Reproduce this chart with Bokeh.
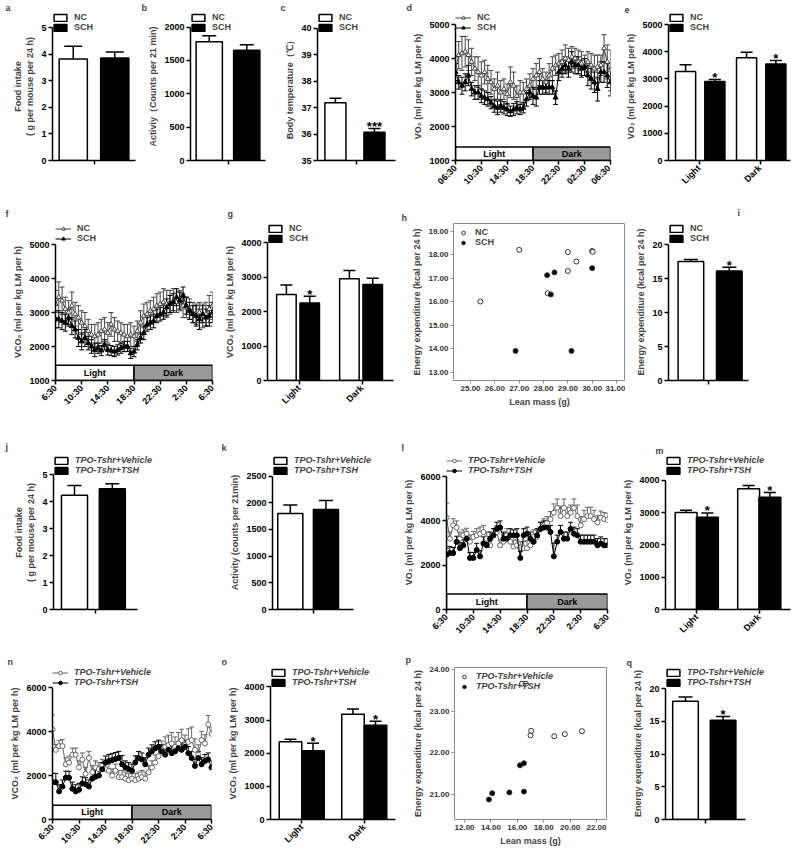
import math
from bokeh.plotting import figure
from bokeh.layouts import column, row
from bokeh.models import (ColumnDataSource, FactorRange, Range1d, Whisker, TeeHead,
                          Legend, LegendItem, FixedTicker, NumeralTickFormatter)
from bokeh.transform import dodge
from bokeh.core.properties import value
from bokeh.embed import file_html
from bokeh.resources import INLINE

FONT = "Liberation Sans"
DARKGRAY = "#9a9a9a"
TITLE_H = 12

# ---------------- data ----------------
grp_one = ["all"]
light_dark = ["Light", "Dark"]
nc_sch = ["NC", "SCH"]
veh_tsh = ["TPO-Tshr+Vehicle", "TPO-Tshr+TSH"]

a_food = [3.83, 3.87]
a_err = [0.48, 0.22]
b_act = [1778, 1652]
b_err = [92, 83]
c_temp = [37.18, 36.07]
c_err = [0.17, 0.14]
c_sig = ["", "***"]
i_ee = [17.5, 16.1]
i_err = [0.3, 0.55]
i_sig = ["", "*"]

e_nc = [3270, 3775]
e_nc_err = [250, 205]
e_sch = [2900, 3550]
e_sch_err = [80, 125]
e_sig = ["*", "*"]
g_nc = [2490, 2950]
g_nc_err = [280, 240]
g_sch = [2250, 2780]
g_sch_err = [190, 185]
g_sig = ["*", ""]

j_food = [4.25, 4.49]
j_err = [0.36, 0.18]
k_act = [1800, 1875]
k_err = [160, 170]
q_ee = [18.07, 15.16]
q_err = [0.62, 0.58]
q_sig = ["", "*"]

m_veh = [3000, 3736]
m_veh_err = [70, 100]
m_tsh = [2856, 3472]
m_tsh_err = [130, 147]
m_sig = ["*", "*"]
o_veh = [2344, 3176]
o_veh_err = [76, 157]
o_tsh = [2079, 2844]
o_tsh_err = [224, 118]
o_sig = ["*", "*"]

hours = [0, 0.5, 1, 1.5, 2, 2.5, 3, 3.5, 4, 4.5, 5, 5.5, 6, 6.5, 7, 7.5, 8, 8.5, 9, 9.5,
         10, 10.5, 11, 11.5, 12, 12.5, 13, 13.5, 14, 14.5, 15, 15.5, 16, 16.5, 17, 17.5,
         18, 18.5, 19, 19.5, 20, 20.5, 21, 21.5, 22, 22.5, 23, 23.5, 24]
time_ticks = [0, 4, 8, 12, 16, 20, 24]
time_labels_d = ["06:30", "10:30", "14:30", "18:30", "22:30", "02:30", "06:30"]
time_labels_f = ["6:30", "10:30", "14:30", "18:30", "22:30", "2:30", "6:30"]
phase_names = ["Light", "Dark"]
phase_start = [0, 12]
phase_end = [12, 24]

d_nc = [3700, 4100, 4150, 4200, 4100, 3900, 3700, 3600, 3500, 3600, 3400, 3300, 3100, 3200, 3000, 3100,
        2950, 3300, 3200, 2900, 3000, 3000, 3100, 3200, 3400, 3500, 3600, 3400, 3300, 3500, 3700, 3800,
        3850, 3900, 4000, 3950, 4050, 4000, 3900, 3850, 3800, 3900, 3800, 3700, 3750, 3800, 4300, 3900, 3650]
d_nc_err = [350, 400, 500, 450, 450, 400, 350, 450, 400, 350, 400, 350, 300, 400, 350, 300,
            300, 450, 400, 300, 350, 300, 300, 350, 300, 350, 400, 300, 300, 350, 350, 300,
            300, 350, 400, 350, 300, 300, 350, 350, 300, 300, 350, 400, 350, 300, 400, 500, 600]
d_sch = [3600, 3300, 3200, 3300, 3500, 3100, 3000, 3000, 2900, 2850, 2800, 2700, 2600, 2550, 2600, 2550,
         2500, 2450, 2500, 2550, 2500, 2550, 2800, 3000, 2900, 2850, 3150, 3150, 3150, 3150, 3150, 2850,
         3600, 3700, 3800, 3700, 3900, 3800, 3800, 3700, 3750, 3500, 3400, 3300, 3100, 3600, 3600, 3500, 3300]
d_sch_err = [250, 200, 250, 250, 300, 200, 200, 200, 200, 200, 200, 180, 180, 200, 180, 180,
             180, 150, 180, 180, 150, 150, 200, 200, 250, 250, 200, 200, 200, 200, 200, 200,
             250, 250, 250, 250, 300, 250, 250, 250, 250, 300, 300, 300, 350, 300, 300, 350, 400]

f_nc = [3250, 3450, 3350, 3100, 3000, 3200, 2950, 2850, 2700, 2600, 2450, 2350, 2300, 2350, 2450, 2500,
        2400, 2650, 2500, 2450, 2400, 2350, 2300, 2350, 2300, 2450, 2700, 2900, 2950, 3050, 3100, 3200,
        3250, 3300, 3250, 3300, 3350, 3300, 3350, 3200, 3150, 3100, 3000, 2950, 3000, 2900, 2950, 3100, 3200]
f_nc_err = [400, 450, 400, 350, 350, 400, 350, 350, 350, 400, 350, 300, 350, 350, 350, 350,
            300, 350, 350, 300, 300, 300, 350, 350, 300, 300, 350, 350, 350, 300, 350, 350,
            350, 400, 400, 350, 350, 300, 300, 350, 300, 300, 300, 300, 300, 350, 350, 400, 400]
f_sch = [2800, 2800, 2750, 2700, 2850, 2600, 2500, 2250, 2150, 2250, 2100, 2000, 1900, 1950, 1880, 2050,
         1900, 1880, 1850, 1900, 1950, 2000, 2000, 1800, 1850, 2050, 2250, 2400, 2650, 2700, 2750, 2900,
         2950, 3000, 3150, 3250, 3300, 3450, 3350, 3500, 3200, 3050, 2950, 2900, 2800, 2950, 2850, 2900, 3000]
f_sch_err = [250, 250, 250, 250, 250, 250, 250, 250, 250, 250, 200, 200, 200, 150, 150, 150,
             150, 150, 150, 150, 150, 150, 150, 150, 150, 150, 150, 200, 200, 200, 200, 200,
             200, 200, 250, 250, 250, 250, 250, 250, 250, 250, 250, 300, 300, 250, 250, 300, 300]

l_veh = [4150, 3200, 3800, 3700, 3200, 3350, 3420, 3060, 3280, 3350, 3420, 3500, 3200, 2900, 3350, 3500,
         2900, 3060, 3350, 3060, 2840, 2900, 2770, 2770, 2770, 2900, 3300, 3280, 3640, 3800, 3900, 4080,
         4370, 4590, 4220, 4590, 4220, 4370, 4590, 4220, 3800, 4080, 4220, 4220, 4080, 3930, 4150, 4080, 4050]
l_veh_err = [650, 300, 300, 300, 300, 250, 250, 300, 250, 300, 300, 300, 300, 300, 300, 300,
             250, 300, 300, 300, 300, 250, 300, 300, 350, 300, 300, 300, 300, 300, 300, 350,
             400, 400, 450, 400, 400, 350, 400, 500, 400, 400, 400, 400, 400, 300, 300, 300, 300]
l_tsh = [2470, 2550, 2550, 3060, 2770, 2900, 3200, 2330, 2330, 2690, 2400, 2980, 2900, 3200, 3350, 3640,
         3700, 3200, 3200, 3350, 3350, 3350, 2330, 3350, 3420, 3200, 3060, 3350, 3640, 3700, 3700, 3500,
         2400, 3060, 3500, 3200, 3200, 3640, 3420, 3350, 3060, 3060, 3060, 3060, 3060, 2900, 2980, 2900, 2900]
l_tsh_err = [300, 300, 250, 250, 250, 250, 300, 250, 250, 300, 250, 300, 300, 300, 300, 300,
             300, 300, 250, 300, 250, 300, 300, 300, 300, 300, 300, 300, 300, 300, 300, 300,
             600, 300, 300, 300, 300, 300, 300, 300, 300, 300, 300, 300, 300, 300, 300, 300, 300]

n_veh = [4100, 3170, 3340, 3340, 2510, 2590, 2950, 2950, 2370, 2730, 2080, 2800, 2150, 2370, 2290, 2440,
         2290, 2220, 2000, 2220, 1930, 1930, 1860, 1790, 1860, 1790, 1860, 1930, 1860, 2150, 2370, 2590,
         2880, 3170, 3310, 3390, 3460, 3310, 3460, 3610, 3390, 3530, 3610, 3170, 2950, 3610, 3460, 4330, 3900]
n_veh_err = [650, 250, 250, 300, 300, 300, 300, 300, 300, 300, 300, 300, 300, 300, 300, 300,
             300, 300, 300, 300, 300, 300, 300, 300, 300, 300, 300, 300, 300, 300, 300, 350,
             400, 400, 450, 450, 500, 450, 500, 500, 450, 600, 600, 500, 450, 400, 400, 400, 300]
n_tsh = [1700, 1700, 1280, 1500, 1900, 1900, 1400, 1280, 1350, 1640, 1600, 1500, 1860, 1950, 2000, 2290,
         2590, 2660, 2700, 2750, 2800, 2510, 2370, 2290, 2220, 2600, 2800, 2730, 2510, 2950, 3100, 3240,
         3310, 3100, 2950, 3170, 3020, 3100, 3240, 3170, 3310, 3020, 2800, 2440, 2800, 2510, 2660, 2730, 2370]
n_tsh_err = [400, 400, 300, 300, 300, 300, 300, 300, 300, 300, 300, 300, 300, 300, 300, 300,
             300, 300, 300, 300, 300, 400, 300, 300, 300, 300, 300, 300, 300, 300, 300, 300,
             300, 300, 300, 300, 300, 300, 300, 300, 300, 300, 300, 300, 300, 300, 300, 300, 300]

h_nc_mass = [25.4, 27.0, 28.17, 29.0, 29.0, 29.35, 30.0, 30.02]
h_nc_ee = [16.0, 18.2, 16.35, 18.1, 17.3, 17.7, 18.15, 18.12]
h_sch_mass = [26.85, 28.15, 28.45, 28.3, 29.15, 30.0]
h_sch_ee = [13.9, 17.12, 17.24, 16.3, 13.9, 17.42]
p_veh_mass = [16.35, 16.65, 17.0, 17.05, 18.8, 19.6, 20.9]
p_veh_ee = [23.66, 23.66, 22.42, 22.53, 22.4, 22.45, 22.52]
p_tsh_mass = [13.85, 14.1, 15.4, 16.2, 16.5, 16.5]
p_tsh_ee = [20.88, 21.03, 21.05, 21.7, 21.75, 21.07]


# ---------------- helpers ----------------
def ext(start, top, t_top, bottom, f_top):
    """Range end so that `top` sits at pixel t_top when the frame spans f_top..bottom."""
    return top + (t_top - f_top) * (top - start) / (bottom - t_top)


def style_axis(ax, fs="9px"):
    ax.axis_line_width = 1.5
    ax.axis_line_color = "black"
    ax.major_tick_line_width = 1.5
    ax.major_tick_line_color = "black"
    ax.major_tick_in = 0
    ax.major_tick_out = 4
    ax.minor_tick_line_color = None
    ax.major_label_text_font = FONT
    ax.major_label_text_font_style = "bold"
    ax.major_label_text_font_size = fs
    ax.major_label_text_color = "black"
    ax.axis_label_text_font = FONT
    ax.axis_label_text_font_style = "bold"
    ax.axis_label_text_font_size = "9px"
    ax.axis_label_standoff = 3
    ax.major_label_standoff = 2


def make_fig(w, h, bl, br, bt, bb, xr, yr, letter, loff, t0):
    p = figure(width=w, height=h, x_range=xr, y_range=yr, output_backend="svg",
               toolbar_location=None, min_border_left=bl, min_border_right=br,
               min_border_top=bt, min_border_bottom=bb, title=letter)
    p.title.text_font = FONT
    p.title.text_font_style = "bold"
    p.title.text_font_size = "9px"
    p.title.align = "left"
    p.title.offset = loff
    p.title.standoff = max(0, bt - TITLE_H - t0)
    p.outline_line_color = None
    p.xgrid.visible = False
    p.ygrid.visible = False
    for ax in p.axis:
        style_axis(ax)
    return p


def add_legend(p, items, italic=False, gw=16, gh=9, margin=0):
    leg = Legend(items=items, location="top_left", orientation="vertical",
                 border_line_color=None, background_fill_alpha=0,
                 padding=0, margin=margin, spacing=0, label_standoff=6,
                 glyph_width=gw, glyph_height=gh, label_height=9,
                 label_text_font=FONT,
                 label_text_font_style="bold italic" if italic else "bold",
                 label_text_font_size="9px")
    p.add_layout(leg)


def bar_panel(p, groups, series, offsets, width, cap, ytop):
    """Bars per group; categorical x range (dodge) or numeric x range (group i centred at i+0.5)."""
    items = []
    y0 = p.y_range.start
    numeric = isinstance(p.x_range, Range1d)
    for (label, vals, errs, sigs, fill), off in zip(series, offsets):
        up = [v + e for v, e in zip(vals, errs)]
        data = dict(g=groups, top=vals, up=up, sig=sigs)
        if numeric:
            data["xn"] = [gi + 0.5 + off for gi in range(len(groups))]
            xs = "xn"
        else:
            xs = dodge("g", off, range=p.x_range)
        src = ColumnDataSource(data)
        p.add_layout(Whisker(source=src, base=xs, upper="up", lower="top",
                             line_color="black", line_width=1.5,
                             upper_head=TeeHead(size=cap, line_color="black", line_width=1.5),
                             lower_head=None))
        r = p.vbar(x=xs, top="top", bottom=y0, width=width, source=src,
                   fill_color=fill, line_color="black", line_width=1.5)
        p.text(x=xs, y="up", text="sig", source=src, text_align="center",
               text_baseline="alphabetic", y_offset=-2, text_font=value(FONT),
               text_font_style="bold", text_font_size="13px", text_color="black")
        items.append(LegendItem(label=label, renderers=[r]))
    if numeric:
        p.xaxis.ticker = FixedTicker(ticks=[gi + 0.5 for gi in range(len(groups))])
        p.xaxis.bounds = (0, len(groups))
    p.yaxis.bounds = (y0, ytop)
    return items


def ts_panel(p, series, labels, box_h, symmetric, ytop):
    y0 = p.y_range.start
    p.quad(left=phase_start, right=phase_end, bottom=y0, top=y0 + box_h,
           fill_color=["white", DARKGRAY], line_color="black", line_width=1.5)
    p.text(x=[(s + e) / 2 for s, e in zip(phase_start, phase_end)], y=[y0 + box_h / 2] * 2,
           text=phase_names, text_align="center", text_baseline="middle",
           text_font=value(FONT), text_font_style="bold", text_font_size="9px")
    items = []
    for label, vals, errs, fill, col, marker in series:
        up = [v + e for v, e in zip(vals, errs)]
        lo = [v - e for v, e in zip(vals, errs)] if symmetric else list(vals)
        src = ColumnDataSource(dict(x=hours, y=vals, up=up, lo=lo))
        p.add_layout(Whisker(source=src, base="x", upper="up", lower="lo",
                             line_color=col, line_width=1,
                             upper_head=TeeHead(size=5, line_color=col, line_width=1),
                             lower_head=TeeHead(size=5, line_color=col, line_width=1) if symmetric else None))
        rl = p.line("x", "y", source=src, line_color=col, line_width=1)
        rs = p.scatter("x", "y", source=src, marker=marker, size=5, fill_color=fill,
                       line_color=col, line_width=1)
        items.append(LegendItem(label=label, renderers=[rl, rs]))
    p.xaxis.ticker = FixedTicker(ticks=time_ticks)
    p.xaxis.major_label_overrides = dict(zip(time_ticks, labels))
    p.xaxis.major_label_orientation = math.pi / 4
    p.yaxis.bounds = (y0, ytop)
    return items


def scatter_panel(p, series, xt, yt):
    items = []
    for label, xs, ys, fill in series:
        r = p.scatter(xs, ys, marker="circle", size=5, fill_color=fill,
                      line_color="#333333", line_width=1)
        items.append(LegendItem(label=label, renderers=[r]))
    p.outline_line_color = "#8c8c8c"
    p.outline_line_width = 1
    for ax in p.axis:
        ax.axis_line_color = None
        ax.major_tick_line_color = "#8c8c8c"
        ax.major_tick_line_width = 1
        ax.major_tick_out = 3
        ax.major_label_text_font_size = "8px"
        ax.major_label_text_color = "#333333"
        ax.formatter = NumeralTickFormatter(format="0.00")
    p.xaxis.ticker = FixedTicker(ticks=xt)
    p.yaxis.ticker = FixedTicker(ticks=yt)
    return items


VO2 = "VO\u2082 (ml per kg LM per h)"
VCO2 = "VCO\u2082 (ml per kg LM per h)"
EE = "Energy expenditure (kcal per 24 h)"

# ---------------- row 1 (height 200) ----------------
R1 = 12
pa = make_fig(140, 200, 52, 5, R1, 35, FactorRange(factors=grp_one),
              Range1d(0, ext(0, 5, 28, 165, R1)), "a", -47, 0)
it = bar_panel(pa, grp_one, [(nc_sch[0], [a_food[0]], [a_err[0]], [""], "white"),
                             (nc_sch[1], [a_food[1]], [a_err[1]], [""], "black")], [-0.25, 0.25], 0.34, 18, 5)
pa.yaxis.ticker = FixedTicker(ticks=[0, 1, 2, 3, 4, 5])
pa.yaxis.axis_label = "Food intake\n( g per mouse per 24 h)"
pa.xaxis.major_label_text_color = None
add_legend(pa, it)

pb = make_fig(130, 200, 50, 5, R1, 35, FactorRange(factors=grp_one),
              Range1d(0, ext(0, 2000, 27, 165, R1)), "b", -49, 0)
it = bar_panel(pb, grp_one, [(nc_sch[0], [b_act[0]], [b_err[0]], [""], "white"),
                             (nc_sch[1], [b_act[1]], [b_err[1]], [""], "black")], [-0.25, 0.25], 0.35, 14, 2000)
pb.yaxis.ticker = FixedTicker(ticks=[0, 500, 1000, 1500, 2000])
pb.yaxis.axis_label = "Activiy\uff08Counts per 21 min)"
pb.xaxis.major_label_text_color = None
add_legend(pb, it)

pc = make_fig(135, 200, 47, 10, R1, 37, FactorRange(factors=grp_one),
              Range1d(35, ext(35, 40, 28, 163, R1)), "c", -37, 0)
it = bar_panel(pc, grp_one, [(nc_sch[0], [c_temp[0]], [c_err[0]], [c_sig[0]], "white"),
                             (nc_sch[1], [c_temp[1]], [c_err[1]], [c_sig[1]], "black")], [-0.27, 0.23], 0.27, 12, 40)
pc.yaxis.ticker = FixedTicker(ticks=[35, 36, 37, 38, 39, 40])
pc.yaxis.axis_label = "Body  temperature\uff08\u2103\uff09"
pc.xaxis.major_label_text_color = None
add_legend(pc, it)

pd_ = make_fig(207, 200, 50, 2, R1, 40, Range1d(0, 24),
               Range1d(1000, ext(1000, 5000, 24, 160, R1)), "d", -49, 0)
it = ts_panel(pd_, [(nc_sch[0], d_nc, d_nc_err, "white", "#444444", "triangle"),
                    (nc_sch[1], d_sch, d_sch_err, "black", "black", "triangle")],
              time_labels_d, 400, True, 5000)
pd_.yaxis.ticker = FixedTicker(ticks=[1000, 2000, 3000, 4000, 5000])
pd_.yaxis.axis_label = VO2
add_legend(pd_, it)

pe = make_fig(186, 200, 56, 8, R1, 40, FactorRange(factors=light_dark),
              Range1d(0, ext(0, 5000, 24, 160, R1)), "e", -44, 0)
it = bar_panel(pe, light_dark, [(nc_sch[0], e_nc, e_nc_err, ["", ""], "white"),
                                (nc_sch[1], e_sch, e_sch_err, e_sig, "black")], [-0.22, 0.26], 0.33, 12, 5000)
pe.yaxis.ticker = FixedTicker(ticks=[0, 1000, 2000, 3000, 4000, 5000])
pe.yaxis.axis_label = VO2
pe.xaxis.major_label_orientation = math.pi / 4
add_legend(pe, it)

# ---------------- row 2 (height 232) ----------------
pf = make_fig(222, 232, 55, 10, 23, 52, Range1d(0, 24),
              Range1d(1000, ext(1000, 5000, 44, 180, 23)), "f", -50, 2)
it = ts_panel(pf, [(nc_sch[0], f_nc, f_nc_err, "white", "#444444", "triangle"),
                   (nc_sch[1], f_sch, f_sch_err, "black", "black", "triangle")],
              time_labels_f, 450, True, 5000)
pf.yaxis.ticker = FixedTicker(ticks=[1000, 2000, 3000, 4000, 5000])
pf.yaxis.axis_label = VCO2
add_legend(pf, it)

pg = make_fig(178, 232, 41, 7, 23, 52, FactorRange(factors=light_dark),
              Range1d(0, ext(0, 4000, 42, 180, 23)), "g", -40, 2)
it = bar_panel(pg, light_dark, [(nc_sch[0], g_nc, g_nc_err, ["", ""], "white"),
                                (nc_sch[1], g_sch, g_sch_err, g_sig, "black")], [-0.2, 0.17], 0.31, 12, 4000)
pg.yaxis.ticker = FixedTicker(ticks=[0, 1000, 2000, 3000, 4000])
pg.yaxis.axis_label = VCO2
pg.xaxis.major_label_orientation = math.pi / 4
add_legend(pg, it)

ph = make_fig(225, 232, 53, 0, 15, 30, Range1d(24.3, 31.37), Range1d(12.64, 19.32), "h", -52, 2)
it = scatter_panel(ph, [(nc_sch[0], h_nc_mass, h_nc_ee, "white"),
                        (nc_sch[1], h_sch_mass, h_sch_ee, "black")],
                   [25, 26, 27, 28, 29, 30, 31], [13, 14, 15, 16, 17, 18, 19])
ph.xaxis.axis_label = "Lean mass (g)"
ph.yaxis.axis_label = EE
add_legend(ph, it, gw=12, gh=9, margin=4)

pi_ = make_fig(173, 232, 43, 50, 23, 52, FactorRange(factors=grp_one),
               Range1d(0, ext(0, 20, 44, 180, 23)), "i", 69, 0)
it = bar_panel(pi_, grp_one, [(nc_sch[0], [i_ee[0]], [i_err[0]], [i_sig[0]], "white"),
                              (nc_sch[1], [i_ee[1]], [i_err[1]], [i_sig[1]], "black")], [-0.22, 0.26], 0.32, 14, 20)
pi_.yaxis.ticker = FixedTicker(ticks=[0, 5, 10, 15, 20])
pi_.yaxis.axis_label = EE
pi_.xaxis.major_label_text_color = None
add_legend(pi_, it)

# ---------------- row 3 (height 213) ----------------
pj = make_fig(220, 213, 53, 55, 22, 33, Range1d(0, 112 / 84),
              Range1d(0, ext(0, 5, 42, 180, 22)), "j", -48, 3)
it = bar_panel(pj, grp_one, [(veh_tsh[0], [j_food[0]], [j_err[0]], [""], "white"),
                             (veh_tsh[1], [j_food[1]], [j_err[1]], [""], "black")], [-0.25, 0.2], 0.31, 14, 5)
pj.yaxis.ticker = FixedTicker(ticks=[0, 1, 2, 3, 4, 5])
pj.yaxis.axis_label = "Food intake\n( g per mouse per 24 h)"
pj.xaxis.major_label_text_color = None
add_legend(pj, it, italic=True)

pk = make_fig(180, 213, 52, 18, 23, 33, Range1d(0, 110 / 81),
              Range1d(0, ext(0, 2500, 44, 180, 23)), "k", -51, 5)
it = bar_panel(pk, grp_one, [(veh_tsh[0], [k_act[0]], [k_err[0]], [""], "white"),
                             (veh_tsh[1], [k_act[1]], [k_err[1]], [""], "black")], [-0.28, 0.16], 0.31, 14, 2500)
pk.yaxis.ticker = FixedTicker(ticks=[0, 500, 1000, 1500, 2000, 2500])
pk.yaxis.axis_label = "Activity (counts per 21min)"
pk.xaxis.major_label_text_color = None
add_legend(pk, it, italic=True)

pl = make_fig(220, 213, 46, 13, 20, 33, Range1d(0, 24),
              Range1d(0, ext(0, 6000, 42, 180, 20)), "l", -45, 3)
it = ts_panel(pl, [(veh_tsh[0], l_veh, l_veh_err, "white", "#666666", "circle"),
                   (veh_tsh[1], l_tsh, l_tsh_err, "black", "black", "circle")],
              time_labels_f, 700, False, 6000)
pl.yaxis.ticker = FixedTicker(ticks=[0, 2000, 4000, 6000])
pl.yaxis.axis_label = VO2
add_legend(pl, it, italic=True)

pm = make_fig(178, 213, 43, 8, 15, 36, FactorRange(factors=light_dark),
              Range1d(0, ext(0, 4000, 41, 177, 15)), "m", -10, 3)
it = bar_panel(pm, light_dark, [(veh_tsh[0], m_veh, m_veh_err, ["", ""], "white"),
                                (veh_tsh[1], m_tsh, m_tsh_err, m_sig, "black")], [-0.17, 0.17], 0.35, 12, 4000)
pm.yaxis.ticker = FixedTicker(ticks=[0, 1000, 2000, 3000, 4000])
pm.yaxis.axis_label = VO2
pm.xaxis.major_label_orientation = math.pi / 4
add_legend(pm, it, italic=True)

# ---------------- row 4 (height 212) ----------------
pn = make_fig(220, 212, 52, 9, 19, 35, Range1d(0, 24),
              Range1d(0, ext(0, 6000, 40, 177, 19)), "n", -45, 5)
it = ts_panel(pn, [(veh_tsh[0], n_veh, n_veh_err, "white", "#666666", "circle"),
                   (veh_tsh[1], n_tsh, n_tsh_err, "black", "black", "circle")],
              time_labels_f, 650, False, 6000)
pn.yaxis.ticker = FixedTicker(ticks=[0, 2000, 4000, 6000])
pn.yaxis.axis_label = VCO2
add_legend(pn, it, italic=True)

po = make_fig(180, 212, 50, 5, 18, 38, FactorRange(factors=light_dark),
              Range1d(0, ext(0, 4000, 38, 174, 18)), "o", -49, 5)
it = bar_panel(po, light_dark, [(veh_tsh[0], o_veh, o_veh_err, ["", ""], "white"),
                                (veh_tsh[1], o_tsh, o_tsh_err, o_sig, "black")], [-0.18, 0.18], 0.36, 12, 4000)
po.yaxis.ticker = FixedTicker(ticks=[0, 1000, 2000, 3000, 4000])
po.yaxis.axis_label = VCO2
po.xaxis.major_label_orientation = math.pi / 4
add_legend(po, it, italic=True)

pp = make_fig(225, 212, 54, 19, 22, 30, Range1d(11.24, 22.76), Range1d(20.4, 24.05), "p", -49, 5)
it = scatter_panel(pp, [(veh_tsh[0], p_veh_mass, p_veh_ee, "white"),
                        (veh_tsh[1], p_tsh_mass, p_tsh_ee, "black")],
                   [12, 14, 16, 18, 20, 22], [21, 22, 23, 24])
pp.xaxis.axis_label = "Lean mass (g)"
pp.yaxis.axis_label = EE
add_legend(pp, it, italic=True, gw=12, gh=9, margin=4)

pq = make_fig(173, 212, 40, 20, 15, 38, Range1d(0, 113 / 80),
              Range1d(0, ext(0, 20, 37, 174, 15)), "q", -39, 3)
it = bar_panel(pq, grp_one, [(veh_tsh[0], [q_ee[0]], [q_err[0]], [q_sig[0]], "white"),
                             (veh_tsh[1], [q_ee[1]], [q_err[1]], [q_sig[1]], "black")], [-0.25, 0.22], 0.32, 14, 20)
pq.yaxis.ticker = FixedTicker(ticks=[0, 5, 10, 15, 20])
pq.yaxis.axis_label = EE
pq.xaxis.major_label_text_color = None
add_legend(pq, it, italic=True)

layout = column(
    row(pa, pb, pc, pd_, pe, spacing=0),
    row(pf, pg, ph, pi_, spacing=0),
    row(pj, pk, pl, pm, spacing=0),
    row(pn, po, pp, pq, spacing=0),
    spacing=0,
)

open("out.html", "w").write(file_html(layout, INLINE))
